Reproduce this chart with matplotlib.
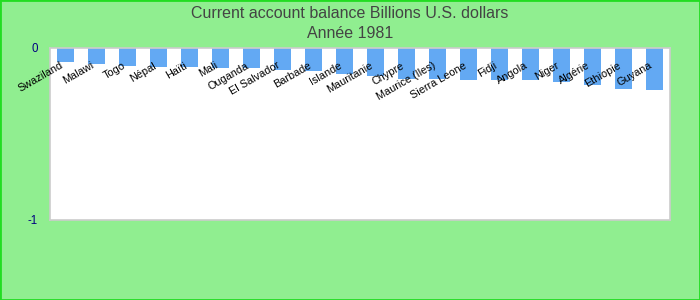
import matplotlib.pyplot as plt

countries = ["Swaziland", "Malawi", "Togo", "Népal", "Haïti", "Mali", "Ouganda",
             "El Salvador", "Barbade", "Islande", "Mauritanie", "Chypre",
             "Maurice (Iles)", "Sierra Leone", "Fidji", "Angola", "Niger",
             "Algérie", "Ethiopie", "Guyana"]
balance = [-0.083, -0.091, -0.103, -0.109, -0.110, -0.115, -0.115,
           -0.126, -0.132, -0.149, -0.163, -0.178,
           -0.178, -0.186, -0.186, -0.186, -0.196,
           -0.215, -0.238, -0.244]
yticks = [0, -1]

plt.rcParams['font.family'] = ['Liberation Sans', 'DejaVu Sans']

fig = plt.figure(figsize=(7, 3), dpi=100, facecolor='#90ee90')
ax = fig.add_axes([50 / 700, 80 / 300, 620 / 700, 172 / 300])
ax.set_facecolor('white')

x = range(len(countries))
ax.bar(x, balance, width=0.55, color='#63a9f3')
ax.set_xlim(-0.5, len(countries) - 0.5)
ax.set_ylim(-1, 0)

# category labels hang just under the zero line
ax.set_xticks([])
for i, name in enumerate(countries):
    ax.annotate(name, xy=(i, 0), xytext=(-4, -9), textcoords='offset points',
                rotation=30, rotation_mode='anchor', ha='right', va='top',
                fontsize=7.8, color='black')

ax.set_yticks(yticks)
ax.set_yticklabels([str(v) for v in yticks], color='#000080', fontsize=8.3)
ax.tick_params(axis='y', length=0, pad=9)

for s in ax.spines.values():
    s.set_color('#cccccc')
    s.set_linewidth(1.2)

fig.text(0.5, 1 - 13 / 300, "Current account balance Billions U.S. dollars",
         ha='center', va='center', fontsize=11.5, color='#444444')
fig.text(0.5, 1 - 33 / 300, "Année 1981",
         ha='center', va='center', fontsize=11.5, color='#444444')

# bright green outer border
fig.patches.append(plt.Rectangle((0, 0), 1, 1, transform=fig.transFigure,
                                 fill=False, edgecolor='#22dd22', linewidth=2))

fig.savefig('out.png', dpi=100, facecolor=fig.get_facecolor())
